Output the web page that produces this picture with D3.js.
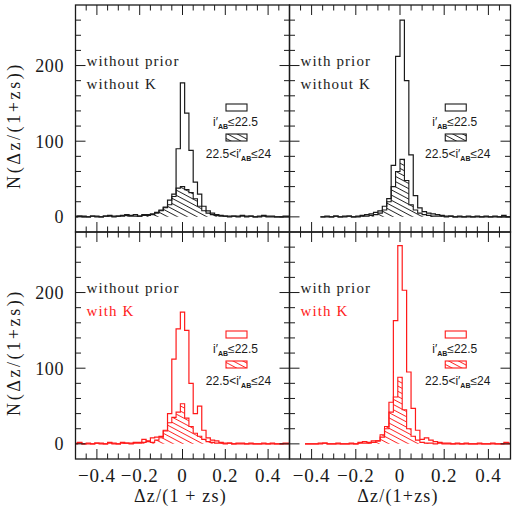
<!DOCTYPE html>
<html>
<head>
<meta charset="utf-8">
<script src="https://cdn.jsdelivr.net/npm/d3@7"></script>
<style>
body { margin: 0; background: #fff; }
</style>
</head>
<body>
<script>
// histogram bin width in dz/(1+zs)
var BIN = 0.02;

var X_MAJOR = [-0.4, -0.2, 0, 0.2, 0.4];
var X_LABELS = ["\u22120.4", "\u22120.2", "0", "0.2", "0.4"];
var Y_MAJOR = [0, 100, 200];
var Y_LABELS = ["0", "100", "200"];

// counts. left column: bins centred on -0.50, -0.48 ... 0.50
var TL_BRIGHT = [1, 1, 1, 0, 1, 1, 0, 1, 2, 1,
  1, 2, 3, 2, 3, 1, 3, 3, 4, 6,
  9, 13, 22, 30, 90, 177, 137, 88, 46, 30,
  14, 8, 5, 3, 2, 1, 1, 1, 1, 2,
  1, 1, 0, 1, 2, 1, 1, 0, 0, 1,
  1];
var TL_FAINT = [0, 1, 0, 0, 1, 0, 0, 1, 1, 0,
  1, 1, 2, 1, 1, 1, 2, 2, 3, 5,
  8, 12, 16, 27, 38, 40, 36, 32, 24, 14,
  8, 5, 3, 2, 1, 1, 0, 1, 0, 1,
  0, 1, 0, 0, 1, 0, 0, 0, 0, 0,
  0];

// top right: bins starting at -0.50, -0.48 ... 0.48 (null = no galaxies plotted)
var TR_BRIGHT = [null, null, null, null, null, null, null, 0, 1, 0,
  1, 0, 1, 1, 0, 1, 2, 3, 4, 6,
  8, 14, 24, 68, 212, 260, 180, 82, 28, 12,
  7, 5, 4, 3, 2, 1, 1, 0, 1, 0,
  1, 0, 1, 0, 1, 0, 1, 0, 2, 0];
var TR_FAINT = [null, null, null, null, null, null, null, 0, 0, 0,
  1, 0, 0, 1, 0, 0, 1, 1, 2, 3,
  5, 9, 20, 40, 60, 76, 48, 16, 9, 5,
  3, 2, 1, 1, 1, 0, 1, 0, 0, 0,
  0, 0, 0, 0, 0, 0, 0, 0, 0, 0];

var BL_BRIGHT = [1, 2, 0, 1, 0, 1, 1, 0, 2, 1,
  0, 2, 1, 1, 2, 2, 6, 3, 8, 9,
  10, 18, 40, 112, 152, 174, 150, 80, 40, 50,
  18, 8, 5, 4, 2, 1, 1, 0, 1, 1,
  0, 1, 0, 0, 1, 0, 1, 0, 0, 1,
  1];
var BL_FAINT = [0, 1, 0, 0, 0, 1, 0, 0, 1, 0,
  0, 1, 1, 0, 1, 1, 2, 4, 2, 5,
  8, 17, 28, 35, 42, 53, 34, 23, 14, 10,
  6, 3, 2, 1, 1, 0, 1, 0, 0, 0,
  0, 0, 0, 0, 0, 0, 0, 0, 0, 0,
  0];

var BR_BRIGHT = [null, null, null, null, 0, 0, 0, 1, 1, 0,
  0, 1, 0, 0, 1, 0, 2, 3, 2, 4,
  4, 9, 20, 55, 163, 262, 203, 95, 47, 18,
  6, 8, 5, 3, 2, 1, 1, 0, 1, 0,
  1, 0, 0, 1, 0, 0, 1, 0, 0, 2,
  1];
var BR_FAINT = [null, null, null, null, 0, 0, 0, 0, 1, 0,
  0, 0, 0, 0, 0, 0, 1, 1, 1, 2,
  4, 12, 23, 42, 62, 88, 45, 20, 10, 5,
  2, 1, 1, 0, 1, 0, 0, 0, 0, 0,
  0, 0, 0, 0, 0, 0, 0, 0, 0, 0,
  0];

var W = 518, H = 514;
var COLS = [[75.5, 289.5], [289.5, 510.5]];
var ROWS = [[5, 232], [232, 459]];
var INK = "#1a1a1a", RED = "#ff1a1a";

var panels = [
  { col: 0, row: 0, prior: "without prior", kText: "without K", color: INK, start: -0.51, bright: TL_BRIGHT, faint: TL_FAINT, xtitle: null },
  { col: 1, row: 0, prior: "with prior", kText: "without K", color: INK, start: -0.50, bright: TR_BRIGHT, faint: TR_FAINT, xtitle: null },
  { col: 0, row: 1, prior: "without prior", kText: "with K", color: RED, start: -0.51, bright: BL_BRIGHT, faint: BL_FAINT, xtitle: "\u0394z/(1 + zs)" },
  { col: 1, row: 1, prior: "with prior", kText: "with K", color: RED, start: -0.51, bright: BR_BRIGHT, faint: BR_FAINT, xtitle: "\u0394z/(1+zs)" }
];

var svg = d3.select("body").append("svg").attr("width", W).attr("height", H);
var defs = svg.append("defs");

// diagonal hatching, one pattern per ink colour
function hatch(id, color) {
  var p = defs.append("pattern").attr("id", id)
    .attr("patternUnits", "userSpaceOnUse")
    .attr("width", 10).attr("height", 4.6)
    .attr("patternTransform", "rotate(28)");
  p.append("line").attr("x1", 0).attr("x2", 10).attr("y1", 2.3).attr("y2", 2.3)
    .attr("stroke", color).attr("stroke-width", 0.9);
}
hatch("hatch-k", INK);
hatch("hatch-r", RED);

function outline(counts, start, x, y) {
  var d = "", on = false;
  counts.forEach(function (v, i) {
    if (v == null) return;
    var x0 = x(start + i * BIN), x1 = x(start + (i + 1) * BIN);
    d += on ? "V" + y(v) : "M" + x0 + "," + y(v);
    d += "H" + x1;
    on = true;
  });
  return d;
}
function area(counts, start, x, y) {
  var d = "", first = null;
  counts.forEach(function (v, i) {
    if (v == null) return;
    var x0 = x(start + i * BIN), x1 = x(start + (i + 1) * BIN);
    if (first == null) { first = x0; d += "M" + x0 + "," + y(0); }
    d += "V" + y(v) + "H" + x1;
  });
  return d + "V" + y(0) + "Z";
}

panels.forEach(function (p, pi) {
  var cx = COLS[p.col], ry = ROWS[p.row];
  var x = d3.scaleLinear().domain([-0.5, 0.5]).range(cx);
  var y = d3.scaleLinear().domain([-20, 280]).range([ry[1], ry[0]]);
  var g = svg.append("g");
  var pat = p.color === RED ? "url(#hatch-r)" : "url(#hatch-k)";

  defs.append("clipPath").attr("id", "clip" + pi).append("rect")
    .attr("x", cx[0]).attr("y", ry[0]).attr("width", cx[1] - cx[0]).attr("height", ry[1] - ry[0]);
  var plot = g.append("g").attr("clip-path", "url(#clip" + pi + ")");

  plot.append("path").attr("d", area(p.faint, p.start, x, y)).attr("fill", pat).attr("stroke", "none");
  plot.append("path").attr("d", outline(p.faint, p.start, x, y))
    .attr("fill", "none").attr("stroke", p.color).attr("stroke-width", 1.1);
  plot.append("path").attr("d", outline(p.bright, p.start, x, y))
    .attr("fill", "none").attr("stroke", p.color).attr("stroke-width", 1.2);

  // frame and inward ticks on all four sides
  g.append("rect").attr("x", cx[0]).attr("y", ry[0]).attr("width", cx[1] - cx[0]).attr("height", ry[1] - ry[0])
    .attr("fill", "none").attr("stroke", INK).attr("stroke-width", 1.3);
  var xMinor = d3.range(-0.45, 0.46, 0.05);
  var yMinor = d3.range(20, 280, 20).concat([0]);
  var ticks = g.append("g").attr("stroke", INK).attr("stroke-width", 1);
  xMinor.forEach(function (v) {
    var major = X_MAJOR.some(function (m) { return Math.abs(m - v) < 1e-6; });
    var len = major ? 10 : 5.5;
    ticks.append("line").attr("x1", x(v)).attr("x2", x(v)).attr("y1", ry[1]).attr("y2", ry[1] - len);
    ticks.append("line").attr("x1", x(v)).attr("x2", x(v)).attr("y1", ry[0]).attr("y2", ry[0] + len);
  });
  yMinor.forEach(function (v) {
    var major = Y_MAJOR.indexOf(v) >= 0;
    var len = major ? 10 : 5.5;
    ticks.append("line").attr("x1", cx[0]).attr("x2", cx[0] + len).attr("y1", y(v)).attr("y2", y(v));
    ticks.append("line").attr("x1", cx[1]).attr("x2", cx[1] - len).attr("y1", y(v)).attr("y2", y(v));
  });

  // y tick labels + title on the left column
  if (p.col === 0) {
    Y_MAJOR.forEach(function (v, i) {
      g.append("text").attr("x", 64).attr("y", y(v)).attr("dy", "0.36em")
        .attr("text-anchor", "end").attr("font-family", "Liberation Serif").attr("font-size", 18)
        .attr("letter-spacing", 0.6).attr("fill", INK).text(Y_LABELS[i]);
    });
    var my = (ry[0] + ry[1]) / 2 + 7;
    g.append("text").attr("transform", "translate(14," + my + ") rotate(-90)")
      .attr("dy", "0.35em").attr("text-anchor", "middle")
      .attr("font-family", "Liberation Serif").attr("font-size", 18).attr("letter-spacing", 2.6)
      .attr("fill", INK).text("N(\u0394z/(1+zs))");
  }

  // x tick labels + title on the bottom row
  if (p.row === 1) {
    X_MAJOR.forEach(function (v, i) {
      g.append("text").attr("x", x(v)).attr("y", 482).attr("text-anchor", "middle")
        .attr("font-family", "Liberation Serif").attr("font-size", 19).attr("letter-spacing", 0.8)
        .attr("fill", INK).text(X_LABELS[i]);
    });
    g.append("text").attr("x", (cx[0] + cx[1]) / 2 - 2).attr("y", 502).attr("text-anchor", "middle")
      .attr("font-family", "Liberation Serif").attr("font-size", 18).attr("letter-spacing", 1.2)
      .attr("fill", INK).text(p.xtitle);
  }

  // panel annotation
  g.append("text").attr("x", cx[0] + 11).attr("y", ry[0] + 60.5)
    .attr("font-family", "Liberation Serif").attr("font-size", 15).attr("letter-spacing", 1.1)
    .attr("fill", INK).text(p.prior);
  g.append("text").attr("x", cx[0] + 11).attr("y", ry[0] + 84)
    .attr("font-family", "Liberation Serif").attr("font-size", 15).attr("letter-spacing", 1.1)
    .attr("fill", p.color === RED ? RED : INK).text(p.kText);

  // legend
  var lx = x(0.25) + 0.5;
  g.append("rect").attr("x", lx - 10.5).attr("y", ry[0] + 99).attr("width", 21).attr("height", 7)
    .attr("fill", "none").attr("stroke", p.color).attr("stroke-width", 1.1);
  g.append("rect").attr("x", lx - 10.5).attr("y", ry[0] + 129).attr("width", 21).attr("height", 7)
    .attr("fill", pat).attr("stroke", p.color).attr("stroke-width", 1.1);

  var t1 = g.append("text").attr("x", lx - 1).attr("y", ry[0] + 121).attr("text-anchor", "middle")
    .attr("font-family", "Liberation Sans").attr("font-size", 12).attr("fill", INK);
  t1.append("tspan").text("i\u2032");
  t1.append("tspan").attr("font-size", 7).attr("font-weight", "bold").attr("dy", 3).text("AB");
  t1.append("tspan").attr("dy", -3).text("\u226422.5");

  var t2 = g.append("text").attr("x", lx + 2).attr("y", ry[0] + 153).attr("text-anchor", "middle")
    .attr("font-family", "Liberation Sans").attr("font-size", 12).attr("fill", INK);
  t2.append("tspan").text("22.5<i\u2032");
  t2.append("tspan").attr("font-size", 7).attr("font-weight", "bold").attr("dy", 3).text("AB");
  t2.append("tspan").attr("dy", -3).text("\u226424");
});
</script>
</body>
</html>
